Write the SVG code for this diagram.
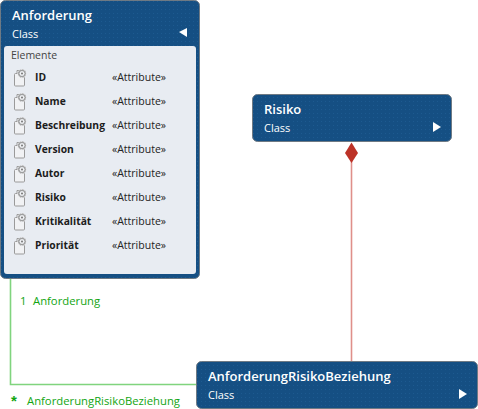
<svg xmlns="http://www.w3.org/2000/svg" width="478" height="409" viewBox="0 0 478 409">
<style>
text{font-family:"Open Sans","Noto Sans","Liberation Sans",sans-serif}
.box{fill:url(#dots);stroke:#6f7a84;stroke-width:1}
.t{font-size:13px;font-weight:600;fill:#fff}
.c{font-size:11px;fill:#fff}
.e{font-size:10.300px;font-weight:700;fill:#1c1c1c}
.a{font-size:10.500px;fill:#222}
.g{font-size:11.300px;fill:#12a512}
.ic{fill:#f1f2f4;stroke:#9a9a9a;stroke-width:1}
</style>
<defs>
<pattern id="dots" width="4" height="4" patternUnits="userSpaceOnUse">
<rect width="4" height="4" fill="#154f83"/>
<rect x="1" y="1" width="1" height="1" fill="#1d5a90"/>
</pattern>
<g id="icon">
<path class="ic" d="M3 4V1.500H6V4"/>
<rect class="ic" x=".5" y="4.500" width="10" height="12.500" rx="1"/>
<circle cx="8" cy="4.500" r="4.200" fill="#a8a8a8" stroke="#eef0f3" stroke-width="1" stroke-dasharray="1.500 1.500"/>
<circle cx="8" cy="4.500" r="3" fill="#eef0f3" stroke="#8a8a8a" stroke-width=".8"/>
<circle cx="8" cy="4.500" r="1" fill="#777"/>
</g>
</defs>
<g id="connectors">
<path d="M351.500 160V361" fill="none" stroke="#df8f8a" stroke-width="1.600"/>
<path d="M351.500 142.500L358 153 351.500 163 345 153Z" fill="#bc3227"/>
<path d="M10.500 279V384.500H196" fill="none" stroke="#80d47e" stroke-width="1.600"/>
<text class="g" x="20" y="305">1</text>
<text class="g" x="33" y="305">Anforderung</text>
<text x="11" y="405.500" style="font-family:'Liberation Sans',sans-serif;font-weight:700;font-size:15px;fill:#12a512">*</text>
<text class="g" x="27" y="405">AnforderungRisikoBeziehung</text>
</g>
<g id="anforderung">
<rect class="box" x=".5" y=".5" width="199" height="278" rx="5"/>
<rect x="4" y="46" width="192" height="228" rx="3" fill="#e8ecf2"/>
<text class="t" x="12" y="20">Anforderung</text>
<text class="c" x="12" y="38">Class</text>
<path d="M187 28V37L179 32Z" fill="#fff"/>
<text x="11" y="59" style="font-size:10.500px;fill:#444">Elemente</text>
<use href="#icon" x="14" y="69"/><text class="e" x="35" y="81">ID</text><text class="a" x="112" y="81">«Attribute»</text>
<use href="#icon" x="14" y="93"/><text class="e" x="35" y="105">Name</text><text class="a" x="112" y="105">«Attribute»</text>
<use href="#icon" x="14" y="117"/><text class="e" x="35" y="129">Beschreibung</text><text class="a" x="112" y="129">«Attribute»</text>
<use href="#icon" x="14" y="141"/><text class="e" x="35" y="153">Version</text><text class="a" x="112" y="153">«Attribute»</text>
<use href="#icon" x="14" y="165"/><text class="e" x="35" y="177">Autor</text><text class="a" x="112" y="177">«Attribute»</text>
<use href="#icon" x="14" y="189"/><text class="e" x="35" y="201">Risiko</text><text class="a" x="112" y="201">«Attribute»</text>
<use href="#icon" x="14" y="213"/><text class="e" x="35" y="225">Kritikalität</text><text class="a" x="112" y="225">«Attribute»</text>
<use href="#icon" x="14" y="237"/><text class="e" x="35" y="249">Priorität</text><text class="a" x="112" y="249">«Attribute»</text>
</g>
<g id="risiko">
<rect class="box" x="252.500" y="94.500" width="199" height="47" rx="5"/>
<text class="t" x="264" y="114">Risiko</text>
<text class="c" x="264" y="132">Class</text>
<path d="M433 122L441 127 433 132Z" fill="#fff"/>
</g>
<g id="anforderungrisikobeziehung">
<rect class="box" x="196.500" y="361.500" width="281" height="47" rx="5"/>
<text class="t" x="208" y="381">AnforderungRisikoBeziehung</text>
<text class="c" x="208" y="399">Class</text>
<path d="M459 389L467 394 459 399Z" fill="#fff"/>
</g>
</svg>
